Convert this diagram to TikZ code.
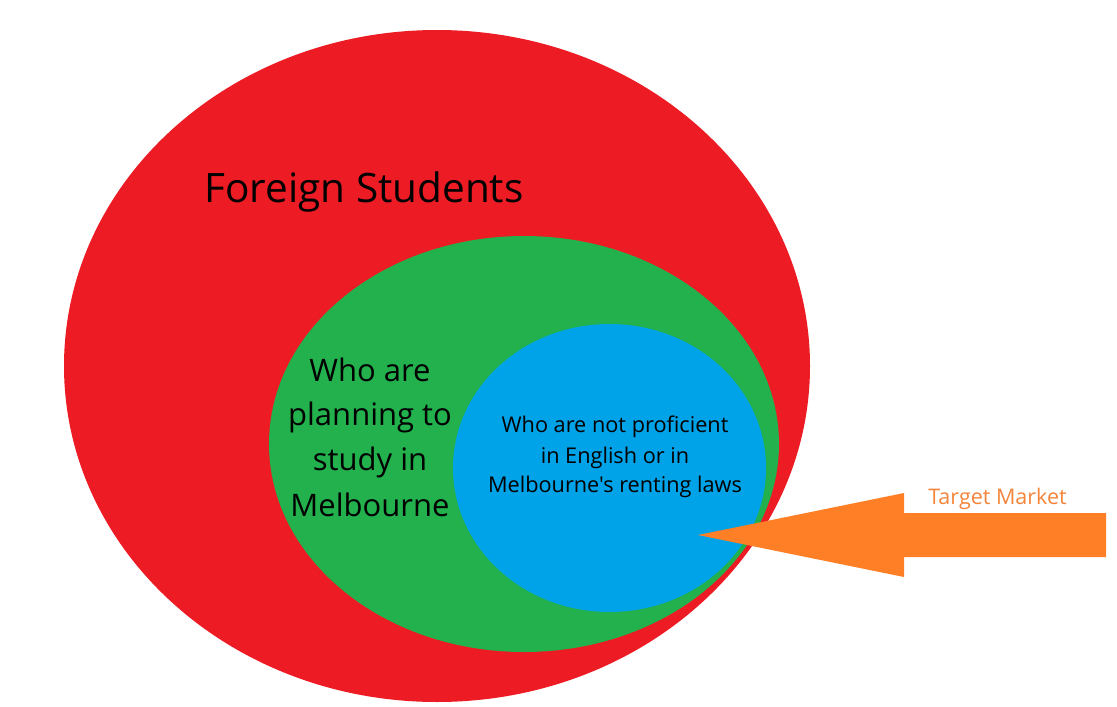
\documentclass[tikz,border=0pt]{standalone}
\usepackage{fontspec}
\setmainfont{Open Sans}[Ligatures=TeXOff]
\definecolor{pRed}{HTML}{ED1C24}
\definecolor{pGreen}{HTML}{22B14C}
\definecolor{pBlue}{HTML}{00A2E8}
\definecolor{pOrange}{HTML}{FF7F27}
\definecolor{tOrange}{HTML}{F4843A}
\tikzset{
  big/.style={anchor=base, inner sep=0pt, font=\fontsize{40.5}{48}\selectfont},
  mid/.style={anchor=base, inner sep=0pt, font=\fontsize{31}{36}\selectfont},
  small/.style={anchor=base, inner sep=0pt, font=\fontsize{21.7}{24}\selectfont},
  lbl/.style={anchor=base, inner sep=0pt, text=tOrange, font=\fontsize{21.5}{24}\selectfont}
}
\begin{document}
\begin{tikzpicture}[x=1pt,y=-1pt]
\useasboundingbox (0,0) rectangle (1117,707);
\fill[pRed] (437,366) ellipse [x radius=373, y radius=336];
\fill[pGreen] (524,444) ellipse [x radius=255, y radius=208];
\fill[pBlue] (609.5,468) ellipse [x radius=156.5, y radius=144];
\fill[pOrange] (698,535) -- (904,493) -- (904,513) -- (1106,513) -- (1106,557) -- (904,557) -- (904,577) -- cycle;
\node[big] (fs) at (364,202) {Foreign Students};
\node[mid] (g1) at (370,381) {Who are};
\node[mid] (g2) at (370,425) {planning to};
\node[mid] (g3) at (370,470) {study in};
\node[mid] (g4) at (370,516) {Melbourne};
\node[small] (b1) at (615,432) {Who are not proficient};
\node[small] (b2) at (615,463) {in English or in};
\node[small] (b3) at (615,492) {Melbourne's renting laws};
\node[lbl] (tm) at (997.5,504) {Target Market};
\end{tikzpicture}
\end{document}
